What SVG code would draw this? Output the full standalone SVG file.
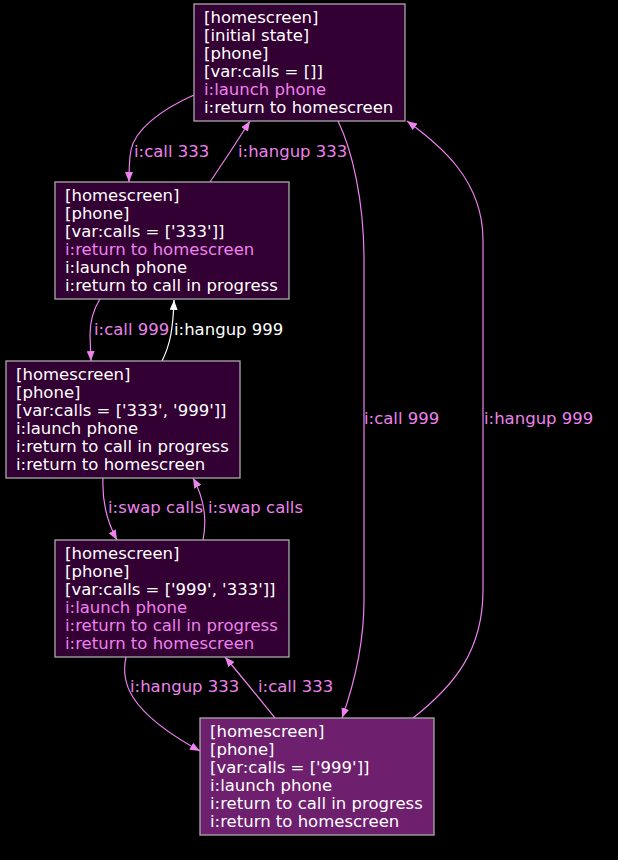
<svg xmlns="http://www.w3.org/2000/svg" width="618" height="860" viewBox="0 0 618 860">
<style>
text{font-family:"DejaVu Sans",sans-serif;font-size:16.5px;fill:#ffffff}
.v{fill:#ee82ee}
.n{fill:#330033;stroke:#aaaaaa;stroke-width:1.3}
.cur{fill:#6e206e}
.e{fill:none;stroke:#ee82ee;stroke-width:1.2}
.w{stroke:#ffffff}
</style>
<defs>
<marker id="av" markerWidth="10" markerHeight="8" refX="10" refY="4" orient="auto" markerUnits="userSpaceOnUse"><path d="M0,0 L10,4 L0,8 z" fill="#ee82ee"/></marker>
<marker id="aw" markerWidth="10" markerHeight="8" refX="10" refY="4" orient="auto" markerUnits="userSpaceOnUse"><path d="M0,0 L10,4 L0,8 z" fill="#ffffff"/></marker>
</defs>
<rect width="618" height="860" fill="#000000"/>
<g id="edges">
<path class="e" marker-end="url(#av)" d="M194,95 C160,110 135,130 131,150 C129,160 129,170 129,182"/>
<text class="v" x="134" y="157">i:call 333</text>
<path class="e" marker-end="url(#av)" d="M210,182 C225,160 238,140 250,121"/>
<text class="v" x="238" y="157">i:hangup 333</text>
<path class="e" marker-end="url(#av)" d="M338,121 C352,150 364,200 364,260 L364,600 C364,650 352,690 342,718"/>
<text class="v" x="364" y="424">i:call 999</text>
<path class="e" marker-end="url(#av)" d="M413,718 C455,685 483,650 483,590 L483,240 C483,180 440,145 407,121"/>
<text class="v" x="484" y="424">i:hangup 999</text>
<path class="e" marker-end="url(#av)" d="M100,299 C93,310 90,322 90,335 L91,361"/>
<text class="v" x="94" y="335">i:call 999</text>
<path class="e w" marker-end="url(#aw)" d="M162,361 C170,345 173,330 174,300"/>
<text x="174" y="335">i:hangup 999</text>
<path class="e" marker-end="url(#av)" d="M103,478 C102,500 106,520 117,540"/>
<text class="v" x="108" y="513">i:swap calls</text>
<path class="e" marker-end="url(#av)" d="M203,540 C207,520 205,500 193,478"/>
<text class="v" x="208" y="513">i:swap calls</text>
<path class="e" marker-end="url(#av)" d="M126,657 C121,680 125,710 200,751"/>
<text class="v" x="130" y="692">i:hangup 333</text>
<path class="e" marker-end="url(#av)" d="M275,718 C258,697 242,677 225,657"/>
<text class="v" x="258" y="692">i:call 333</text>
</g>
<g id="nodeA">
<rect class="n" x="194" y="4" width="211" height="117"/>
<text x="204" y="23">[homescreen]</text>
<text x="204" y="41">[initial state]</text>
<text x="204" y="59">[phone]</text>
<text x="204" y="77">[var:calls = []]</text>
<text class="v" x="204" y="95">i:launch phone</text>
<text x="204" y="113">i:return to homescreen</text>
</g>
<g id="nodeB">
<rect class="n" x="55" y="182" width="234" height="117"/>
<text x="65" y="201">[homescreen]</text>
<text x="65" y="219">[phone]</text>
<text x="65" y="237">[var:calls = ['333']]</text>
<text class="v" x="65" y="255">i:return to homescreen</text>
<text x="65" y="273">i:launch phone</text>
<text x="65" y="291">i:return to call in progress</text>
</g>
<g id="nodeC">
<rect class="n" x="6" y="361" width="234" height="117"/>
<text x="16" y="380">[homescreen]</text>
<text x="16" y="398">[phone]</text>
<text x="16" y="416">[var:calls = ['333', '999']]</text>
<text x="16" y="434">i:launch phone</text>
<text x="16" y="452">i:return to call in progress</text>
<text x="16" y="470">i:return to homescreen</text>
</g>
<g id="nodeD">
<rect class="n" x="55" y="540" width="234" height="117"/>
<text x="65" y="559">[homescreen]</text>
<text x="65" y="577">[phone]</text>
<text x="65" y="595">[var:calls = ['999', '333']]</text>
<text class="v" x="65" y="613">i:launch phone</text>
<text class="v" x="65" y="631">i:return to call in progress</text>
<text class="v" x="65" y="649">i:return to homescreen</text>
</g>
<g id="nodeE">
<rect class="n cur" x="200" y="718" width="234" height="117"/>
<text x="210" y="737">[homescreen]</text>
<text x="210" y="755">[phone]</text>
<text x="210" y="773">[var:calls = ['999']]</text>
<text x="210" y="791">i:launch phone</text>
<text x="210" y="809">i:return to call in progress</text>
<text x="210" y="827">i:return to homescreen</text>
</g>
</svg>
